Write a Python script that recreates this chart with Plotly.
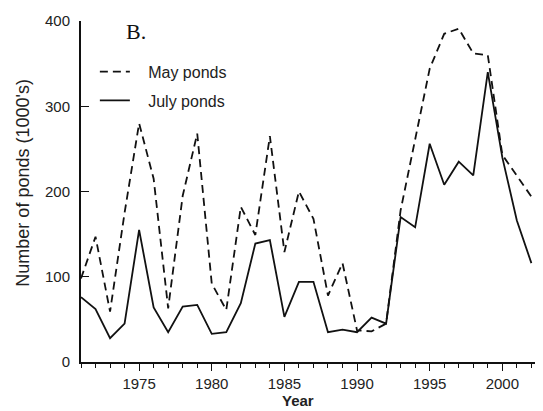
import plotly.graph_objects as go

years = list(range(1971, 2003))
may_ponds = [98, 147, 59, 175, 280, 215, 63, 195, 268, 92, 61, 182, 149, 265, 129,
             200, 168, 78, 116, 37, 36, 45, 178, 260, 344, 385, 391, 362, 360, 243,
             219, 194]
july_ponds = [76, 62, 28, 45, 155, 64, 35, 65, 67, 33, 35, 69, 139, 143, 53,
              94, 94, 35, 38, 35, 52, 45, 170, 158, 256, 208, 235, 219, 340, 240,
              166, 116]
x_ticks = [1975, 1980, 1985, 1990, 1995, 2000]
y_ticks = [0, 100, 200, 300, 400]

font_family = "Liberation Sans, Arial, sans-serif"
NB = "\u00a0\u00a0\u00a0"

fig = go.Figure()
fig.add_trace(go.Scatter(x=years, y=may_ponds, mode="lines", name=NB + "May ponds",
                         legendgroup="may",
                         line=dict(color="#111", width=1.8, dash="8px,5px")))
fig.add_trace(go.Scatter(x=years, y=july_ponds, mode="lines", name=NB + "July ponds",
                         legendgroup="july",
                         line=dict(color="#111", width=1.8)))

# page body has an 8px margin, so the figure is sized to fill the 543x411 window
fig.update_layout(
    width=535, height=403,
    margin=dict(l=73, r=0, t=13, b=49, autoexpand=False),
    paper_bgcolor="white", plot_bgcolor="white",
    font=dict(family=font_family, size=15, color="#222"),
    showlegend=True,
    legend=dict(x=0.03, y=0.901, xanchor="left", yanchor="top",
                bgcolor="rgba(0,0,0,0)", tracegroupgap=5,
                font=dict(size=16, color="#222")),
    xaxis=dict(range=[1971, 2002.8], tickvals=x_ticks,
               ticks="outside", ticklen=7, tickwidth=1.2, tickcolor="#111",
               minor=dict(dtick=1, tick0=1971, ticks="outside", ticklen=4,
                          tickwidth=1, tickcolor="#111", showgrid=False),
               showline=True, linecolor="#111", linewidth=2,
               showgrid=False, zeroline=False,
               tickfont=dict(size=15, color="#222")),
    yaxis=dict(range=[0, 400], tickvals=y_ticks,
               ticks="inside", ticklen=8, tickwidth=1.2, tickcolor="#111",
               ticklabelstandoff=6,
               showline=True, linecolor="#111", linewidth=2,
               showgrid=False, zeroline=False,
               tickfont=dict(size=15, color="#222")),
)

fig.add_annotation(text="Number of ponds (1000's)", textangle=-90,
                   x=-0.1255, y=0.526, xref="paper", yref="paper",
                   xanchor="center", yanchor="middle", showarrow=False,
                   font=dict(size=18, color="#222"))
fig.add_annotation(text="B.", x=0.119, y=0.968, xref="paper", yref="paper",
                   xanchor="center", yanchor="middle", showarrow=False,
                   font=dict(family="Liberation Serif, Times New Roman, serif",
                             size=22, color="#111"))
fig.add_annotation(text="<b>Year</b>", x=0.47, y=-0.1437, xref="paper", yref="paper",
                   xanchor="center", yanchor="bottom", showarrow=False,
                   font=dict(size=15, color="#222"))

fig.write_html("out.html")
